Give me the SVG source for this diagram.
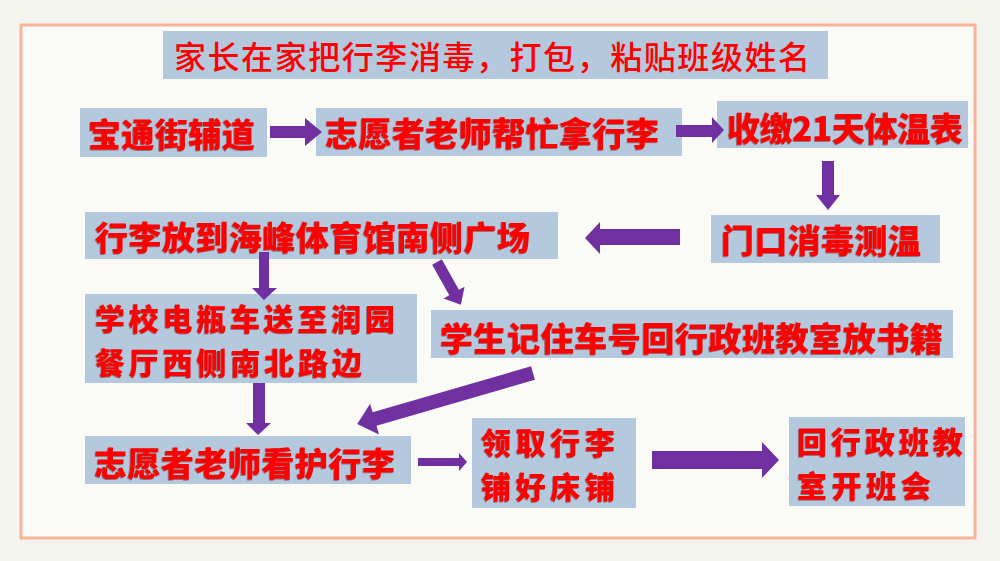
<svg xmlns="http://www.w3.org/2000/svg" width="1000" height="561" viewBox="0 0 1000 561">
  <defs>
    <style>
      .box { fill: #b4c9dd; }
      .arr { fill: #7030a0; }
      .t { font-family: "Noto Sans CJK SC", "Noto Sans CJK JP", sans-serif; fill: #ff0000; dominant-baseline: central; }
      .b { font-weight: 900; font-size: 33px; filter: url(#sh); }
      .b2 { font-weight: 900; font-size: 30px; filter: url(#sh); }
      .n { font-weight: 500; font-size: 32px; }
    </style>
    <filter id="sh" x="-5%" y="-20%" width="110%" height="140%">
      <feDropShadow dx="-0.8" dy="0.8" stdDeviation="0.4" flood-color="#700000" flood-opacity="0.55"/>
    </filter>
  </defs>
  <rect x="0" y="0" width="1000" height="561" fill="#f4f4ee"/>
  <rect x="21" y="25" width="954" height="513" fill="#fafaf6" stroke="#f8b49a" stroke-width="3"/>

  <g id="title">
    <rect class="box" x="163" y="31" width="665" height="48"/>
    <text class="t n" x="174" y="55" textLength="636" lengthAdjust="spacing">家长在家把行李消毒，打包，粘贴班级姓名</text>
  </g>
  <g id="n1">
    <rect class="box" x="80" y="108" width="187" height="49"/>
    <text class="t b" x="88" y="132.5" textLength="167" lengthAdjust="spacing">宝通街辅道</text>
  </g>
  <g id="n2">
    <rect class="box" x="316" y="108" width="366" height="48"/>
    <text class="t b" x="325" y="132" textLength="334" lengthAdjust="spacing">志愿者老师帮忙拿行李</text>
  </g>
  <g id="n3">
    <rect class="box" x="717" y="101" width="251" height="47"/>
    <text class="t b" x="727" y="127" textLength="236" lengthAdjust="spacing">收缴21天体温表</text>
  </g>
  <g id="n4">
    <rect class="box" x="711" y="215" width="229" height="48"/>
    <text class="t b" x="721" y="238.5" textLength="200" lengthAdjust="spacing">门口消毒测温</text>
  </g>
  <g id="n5">
    <rect class="box" x="85" y="212" width="473" height="47"/>
    <text class="t b" x="95" y="236" textLength="435" lengthAdjust="spacing">行李放到海峰体育馆南侧广场</text>
  </g>
  <g id="n6">
    <rect class="box" x="85" y="294" width="332" height="89"/>
    <text class="t b2" x="95" y="317" textLength="300" lengthAdjust="spacing">学校电瓶车送至润园</text>
    <text class="t b2" x="95" y="361" textLength="267" lengthAdjust="spacing">餐厅西侧南北路边</text>
  </g>
  <g id="n7">
    <rect class="box" x="431" y="310" width="522" height="48"/>
    <text class="t b" x="440" y="336.5" textLength="503" lengthAdjust="spacing">学生记住车号回行政班教室放书籍</text>
  </g>
  <g id="n8">
    <rect class="box" x="85" y="436" width="326" height="48"/>
    <text class="t b" x="94" y="461.5" textLength="301" lengthAdjust="spacing">志愿者老师看护行李</text>
  </g>
  <g id="n9">
    <rect class="box" x="472" y="418" width="164" height="90"/>
    <text class="t b2" x="481" y="441" textLength="134" lengthAdjust="spacing">领取行李</text>
    <text class="t b2" x="481" y="485" textLength="134" lengthAdjust="spacing">铺好床铺</text>
  </g>
  <g id="n10">
    <rect class="box" x="789" y="417" width="176" height="89"/>
    <text class="t b2" x="797" y="440" textLength="166" lengthAdjust="spacing">回行政班教</text>
    <text class="t b2" x="797" y="484" textLength="134" lengthAdjust="spacing">室开班会</text>
  </g>

  <g id="connectors">
    <polygon class="arr" points="270,126 305,126 305,118 322,132 305,146 305,138 270,138"/>
    <polygon class="arr" points="676,125 712,125 712,117 724,130 712,143 712,137 676,137"/>
    <polygon class="arr" points="822,161 834,161 834,195 840,195 828,210 816,195 822,195"/>
    <polygon class="arr" points="680,229 600,229 600,222 585,238 600,254 600,245 680,245"/>
    <polygon class="arr" points="259,252 269,252 269,288 277,288 264,300 252,288 259,288"/>
    <polygon class="arr" transform="translate(437,262) rotate(60.8)" points="0,-5.5 35,-5.5 35,-12 49,0 35,12 35,5.5 0,5.5"/>
    <polygon class="arr" transform="translate(533,373) rotate(163.8)" points="0,-7 165,-7 165,-16 183,0 165,16 165,7 0,7"/>
    <polygon class="arr" points="253,383 265,383 265,423 271,423 258,435 246,423 253,423"/>
    <polygon class="arr" points="418,458 459,458 459,453 467,462 459,471 459,466 418,466"/>
    <polygon class="arr" points="652,451 762,451 762,442 779,460 762,478 762,469 652,469"/>
  </g>
</svg>
